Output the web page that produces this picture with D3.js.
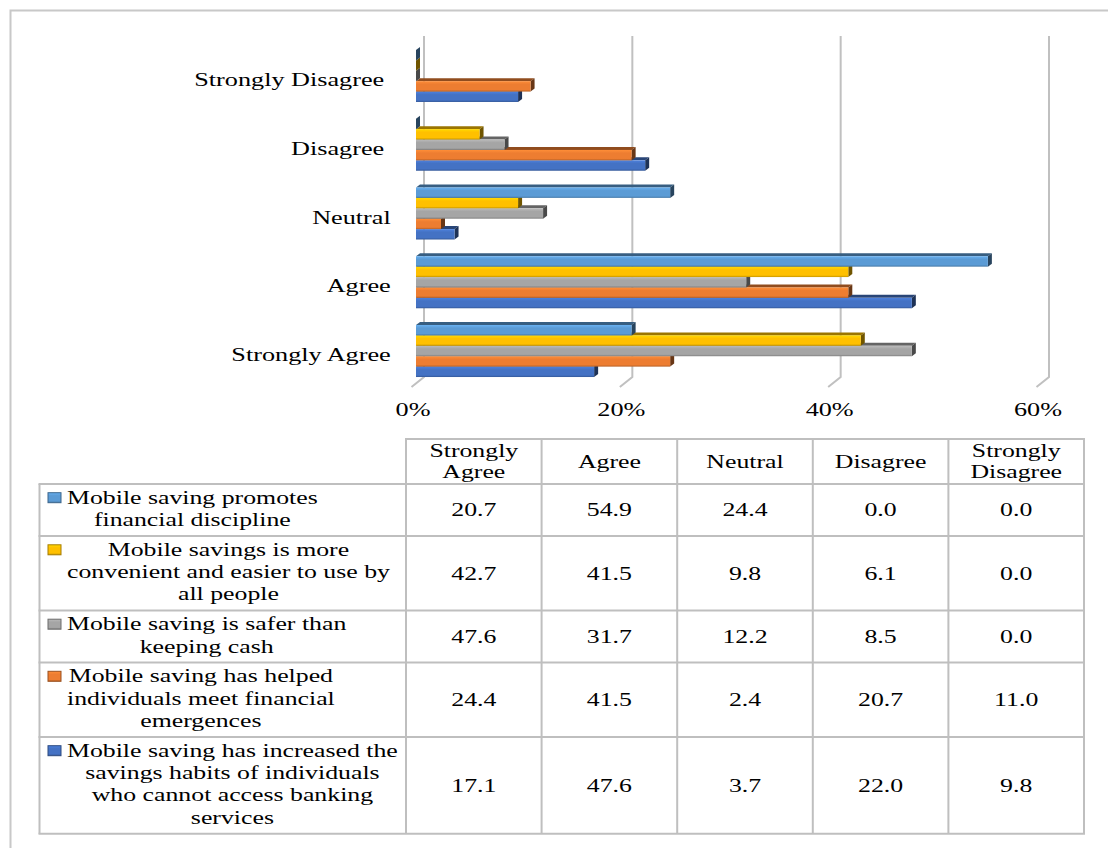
<!DOCTYPE html>
<html>
<head>
<meta charset="utf-8">
<script src="https://cdn.jsdelivr.net/npm/d3@7"></script>
<style>
  html, body { margin: 0; padding: 0; background: #fff; }
  svg { display: block; }
  text { font-family: "Liberation Serif", "Times New Roman", serif; fill: #000; white-space: pre; }
</style>
</head>
<body>
<svg id="chart" width="1108" height="848"></svg>
<script>
// Chart categories, top to bottom (as typed in the sheet, trailing spaces included)
const categories = ["Strongly Disagree ", "Disagree ", "Neutral", "Agree", "Strongly Agree"];
// Table column order
const columns = ["Strongly Agree", "Agree", "Neutral", "Disagree", "Strongly Disagree"];
const columnHeaders = ["Strongly\nAgree", "Agree", "Neutral", "Disagree", "Strongly\nDisagree"];

// Statement labels (line breaks as wrapped in the table)
const seriesNames = [
  "Mobile saving promotes\nfinancial discipline",
  "Mobile savings is more\nconvenient and easier to use by\nall people",
  "Mobile saving is safer than\nkeeping cash",
  "Mobile saving has helped\nindividuals meet financial\nemergences",
  "Mobile saving has increased the\nsavings habits of individuals\nwho cannot access banking\nservices"
];

// Percent of respondents, in table column order: SA, A, N, D, SD
const promotesDiscipline = [20.7, 54.9, 24.4, 0.0, 0.0];
const moreConvenient     = [42.7, 41.5, 9.8, 6.1, 0.0];
const saferThanCash      = [47.6, 31.7, 12.2, 8.5, 0.0];
const helpedEmergencies  = [24.4, 41.5, 2.4, 20.7, 11.0];
const increasedHabits    = [17.1, 47.6, 3.7, 22.0, 9.8];

const tickValues = [0, 20, 40, 60];
const tickLabels = ["0%", "20%", "40%", "60%"];

const seriesValues = [promotesDiscipline, moreConvenient, saferThanCash, helpedEmergencies, increasedHabits];
const palette = ["#5B9BD5", "#FFC000", "#A5A5A5", "#ED7D31", "#4472C4"];

const SX = 1.38;          // horizontal text stretch
const svg = d3.select("#chart");
const defs = svg.append("defs");

// outer frame
svg.append("path")
  .attr("d", "M1108,10.5H10.5V848")
  .attr("fill", "none").attr("stroke", "#c8c8c8").attr("stroke-width", 2);

function stretchedText(parent, x, y, str, anchor, size) {
  const g = parent.append("g").attr("transform", `translate(${x},${y}) scale(${SX},1)`);
  return g.append("text").attr("text-anchor", anchor).attr("font-size", size).text(str);
}

// ---------- bar chart ----------
const x = d3.scaleLinear().domain([0, 60]).range([416, 1041]);
const yCat = d3.scaleBand().domain(categories).range([41.6, 385.4])
  .paddingInner(0.2436).paddingOuter(0.1218);
const ySer = d3.scaleBand().domain(d3.range(seriesValues.length)).range([0, yCat.bandwidth()]);
const DX = 4, DY = 3;     // bar depth offset

const grid = svg.append("g");
tickValues.forEach(t => {
  grid.append("path")
    .attr("d", `M${x(t) + 8},36V377L${x(t) - 4.5},387`)
    .attr("fill", "none").attr("stroke", "#c0c0c0").attr("stroke-width", 2);
});

tickValues.forEach((t, i) => {
  stretchedText(svg, x(t) - 3, 416, tickLabels[i], "middle", 19);
});

// gradients for bar fronts and legend keys
palette.forEach((c, i) => {
  const base = d3.color(c);
  const gr = defs.append("linearGradient").attr("id", "front" + i)
    .attr("x1", 0).attr("y1", 0).attr("x2", 0).attr("y2", 1);
  gr.append("stop").attr("offset", "0%").attr("stop-color", base.brighter(0.35));
  gr.append("stop").attr("offset", "30%").attr("stop-color", base);
  gr.append("stop").attr("offset", "82%").attr("stop-color", base);
  gr.append("stop").attr("offset", "100%").attr("stop-color", base.darker(0.7));
});

const colIndex = name => columns.indexOf(name.trim());
const bars = svg.append("g");
categories.forEach(cat => {
  const ci = colIndex(cat);
  // lower bars first so the bar above hides their top face
  for (let s = seriesValues.length - 1; s >= 0; s--) {
    const v = seriesValues[s][ci];
    const x0 = x(0), x1 = x(v);
    const yt = yCat(cat) + ySer(s), h = ySer.bandwidth();
    const base = d3.color(palette[s]);
    bars.append("polygon")
      .attr("points", [[x0, yt], [x0 + DX, yt - DY], [x1 + DX, yt - DY], [x1, yt]].join(" "))
      .attr("fill", base.darker(1.4));
    bars.append("polygon")
      .attr("points", [[x1, yt], [x1 + DX, yt - DY], [x1 + DX, yt + h - DY], [x1, yt + h]].join(" "))
      .attr("fill", base.darker(2.3));
    if (x1 > x0) {
      bars.append("rect")
        .attr("x", x0).attr("y", yt).attr("width", x1 - x0).attr("height", h)
        .attr("fill", `url(#front${s})`);
    }
  }
});

categories.forEach(cat => {
  stretchedText(svg, 390.7, yCat(cat) + yCat.bandwidth() / 2 + 10, cat, "end", 19);
});

// ---------- data table ----------
const tableFont = 18.7, lineH = 22.3, rowPad = 7.5;
const tLeft = 39.5;
const col = d3.scaleBand().domain(columns).range([406, 1084]);
const headTop = 439, headH = 45;
const lineColor = "#bfbfbf";
const table = svg.append("g");

const rows = [];
let yCursor = headTop + headH;
seriesNames.forEach((name, i) => {
  const lines = name.split("\n");
  const h = rowPad + lines.length * lineH;
  rows.push({ i, lines, top: yCursor, h });
  yCursor += h;
});
const tBottom = yCursor;

function hline(x1, x2, y) {
  table.append("line").attr("x1", x1).attr("x2", x2).attr("y1", y).attr("y2", y)
    .attr("stroke", lineColor).attr("stroke-width", 2);
}
function vline(xx, y1, y2) {
  table.append("line").attr("x1", xx).attr("x2", xx).attr("y1", y1).attr("y2", y2)
    .attr("stroke", lineColor).attr("stroke-width", 2);
}
hline(col.range()[0] - 1, col.range()[1] + 1, headTop);
rows.forEach(r => hline(tLeft - 1, col.range()[1] + 1, r.top));
hline(tLeft - 1, col.range()[1] + 1, tBottom);
vline(tLeft, headTop + headH, tBottom);
columns.forEach(c => vline(col(c), headTop, tBottom));
vline(col.range()[1], headTop, tBottom);

// header
columns.forEach((c, k) => {
  const lines = columnHeaders[k].split("\n");
  const cx = col(c) + col.bandwidth() / 2;
  const mid = headTop + headH / 2;
  const lh = 21;
  lines.forEach((ln, j) => {
    const by = mid - (lines.length - 1) * lh / 2 + j * lh + 6.3;
    stretchedText(table, cx, by, ln, "middle", tableFont);
  });
});

// rows
rows.forEach(r => {
  const base = d3.color(palette[r.i]);
  const b1 = r.top + 19.7;
  table.append("rect")
    .attr("x", 48).attr("y", b1 - 11).attr("width", 13).attr("height", 10)
    .attr("fill", `url(#front${r.i})`)
    .attr("stroke", base.darker(1.2)).attr("stroke-width", 1);

  const texts = r.lines.map((ln, j) =>
    stretchedText(table, 0, b1 + j * lineH, ln, "middle", tableFont));
  const maxW = d3.max(texts, t => t.node().getComputedTextLength()) * SX;
  const cx = 67 + maxW / 2;
  texts.forEach((t, j) =>
    d3.select(t.node().parentNode)
      .attr("transform", `translate(${cx},${b1 + j * lineH}) scale(${SX},1)`));

  columns.forEach((c, k) => {
    stretchedText(table, col(c) + col.bandwidth() / 2, r.top + r.h / 2 + 6.3,
      d3.format(".1f")(seriesValues[r.i][k]), "middle", tableFont);
  });
});
</script>
</body>
</html>
